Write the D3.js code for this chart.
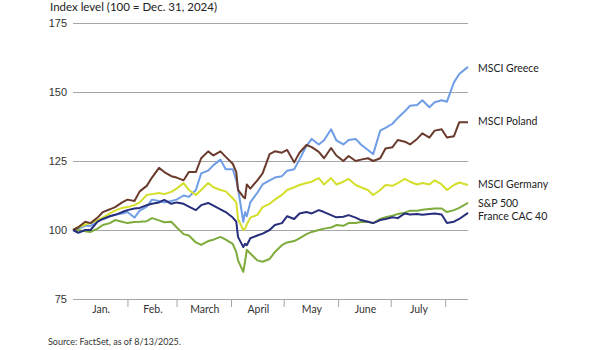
<!DOCTYPE html>
<html>
<head>
<meta charset="utf-8">
<script src="https://cdn.jsdelivr.net/npm/d3@7"></script>
<style>
  body { margin: 0; background: #fff; }
  svg { display: block; font-family: Lato, "Open Sans", sans-serif; }
</style>
</head>
<body>
<svg width="600" height="350"></svg>
<script>
// trading dates sampled through the period
const dates = [
  "2024-12-31","2025-01-03","2025-01-07","2025-01-10","2025-01-14","2025-01-17","2025-01-21","2025-01-24",
  "2025-01-28","2025-01-31","2025-02-04","2025-02-07","2025-02-11","2025-02-14","2025-02-18","2025-02-21",
  "2025-02-25","2025-02-28","2025-03-04","2025-03-07","2025-03-11","2025-03-14","2025-03-18","2025-03-21",
  "2025-03-25","2025-03-28","2025-04-01","2025-04-03","2025-04-04","2025-04-07","2025-04-08","2025-04-09",
  "2025-04-11","2025-04-15","2025-04-18","2025-04-22","2025-04-25","2025-04-29","2025-05-02","2025-05-06",
  "2025-05-09","2025-05-13","2025-05-16","2025-05-20","2025-05-23","2025-05-27","2025-05-30","2025-06-03",
  "2025-06-06","2025-06-10","2025-06-13","2025-06-17","2025-06-20","2025-06-24","2025-06-27","2025-07-01",
  "2025-07-04","2025-07-08","2025-07-11","2025-07-15","2025-07-18","2025-07-22","2025-07-25","2025-07-29",
  "2025-08-01","2025-08-05","2025-08-08","2025-08-13"
];

const greece = [
  100,100.5,101.5,101.5,103,104,105,105.5,106,106.5,104.5,107,108.5,111,110.5,110,
  110.5,111,112.5,112,114.5,120.5,121.5,123.5,125.5,122,122,118,115,103,106.5,105,
  110,113.5,116.5,118,119,119.5,121.5,122,125.5,130.5,133,131,132.5,136.5,132.5,131,
  132.6,133,131,129,127.5,136,137,138.5,140.6,143,145,145.3,147,144.5,146.3,147,
  146.5,153.5,156.5,159.1
];
const poland = [
  100,101,103,102.5,104.5,106.5,107.5,108.3,110,111,110.5,114,116,119,122.5,121,
  119.5,119,118,121,121,126,128.5,127,128.5,126.5,124,121,114.5,112,111.5,116.5,
  115,118,120.5,127.5,128.5,128,129,124.5,128,130.8,130,128.3,126,129.7,127,125,
  126.8,125,125.5,126,125,126,129.5,130,132.6,132,131,133,135,133.5,136,136.5,
  133.5,134,139,139
];
const germany = [
  100,101,102,102.5,103.6,104.5,106,107,108,108.3,109,110,112.7,113,113.4,113,
  113.8,115,117,114.5,112.7,114.5,117,115.5,114.5,114,111.5,110,104,100,100.5,102,
  104.5,105.5,108.3,109.5,111,112.7,114.5,115.5,116.3,117,117.5,118.8,116.5,118.8,116.5,117.5,
  118.5,116.3,115.5,114.5,112.7,114.5,116.3,116,117,118.5,117.5,116.5,117,116.5,118,116.5,
  114.5,116.3,117.2,116.3
];
const sp500 = [
  100,100,99.5,99.3,100.5,101.8,102.5,103.6,103,102.5,102.9,103,103.2,104.3,103.5,102.8,
  103,101,98.5,98,95.5,94.6,96,96.5,97.5,96.5,95,92,89,84.8,88.5,92.8,
  91.5,89,88.5,89.5,92,94.5,95.5,96,97,98.5,99.3,100,100.5,100.9,101.8,101.5,
  102.5,102.5,102.9,103,102.5,104,104.6,105.2,105.8,106.3,107,107,107.3,107.6,107.8,107.8,
  106.5,107.2,108,109.8
];
const cac40 = [
  100,99,100,100,103,104,105,105.5,106.5,107.2,107.8,108,109,109.5,110,110.9,
  109.5,110,109.5,108.5,107.2,109,109.8,108.8,107.5,106.5,104.5,103,97.5,93.8,95,94.5,
  97,98,98.7,100,101.8,102.5,105,104,106,106.5,106,107.2,106.5,105.4,104.6,104.8,
  105.4,104.5,103.6,103,102.5,103.6,104,104.6,104.3,106,105.6,105.8,105.5,105.8,106,105.6,
  102.5,103,104,106.2
];

const seriesNames = ["MSCI Greece", "MSCI Germany", "S&P 500", "MSCI Poland", "France CAC 40"];
const seriesValues = [greece, germany, sp500, poland, cac40];
const seriesColors = ["#6f9de6", "#d3df2a", "#7dab3c", "#6a3b2c", "#272e7b"];
const labelNudge = [1, -1, 0, -1, 3];

const yTicks = [75, 100, 125, 150, 175];
const monthLabels = ["Jan.", "Feb.", "March", "April", "May", "June", "July"];

const parse = d3.timeParse("%Y-%m-%d");
const xDates = dates.map(parse);

const svg = d3.select("svg");
const x = d3.scaleTime()
  .domain([parse("2024-12-31"), parse("2025-08-13")])
  .range([73, 468]);
const y = d3.scaleLinear().domain([75, 175]).range([299, 23]);

// gridlines + y labels
const yAxis = svg.append("g")
  .attr("transform", "translate(73,0)")
  .call(d3.axisLeft(y).tickValues(yTicks).tickSize(-395).tickPadding(6));
yAxis.select(".domain").remove();
yAxis.selectAll("line").attr("stroke", "#a6a6a6").attr("stroke-width", 1);
yAxis.selectAll("text").attr("fill", "#333").style("font-size", "11px");

// month separators (last day of each month)
const monthEnds = d3.range(1, 8).map(m => d3.timeDay.offset(new Date(2025, m, 1), -1));
const xAxis = svg.append("g")
  .attr("transform", "translate(0,299)")
  .call(d3.axisBottom(x).tickValues(monthEnds).tickSize(8).tickSizeOuter(0).tickFormat(""));
xAxis.select(".domain").remove();
xAxis.selectAll("line").attr("stroke", "#a6a6a6");

const bounds = [x.domain()[0], ...monthEnds];
svg.append("g").selectAll("text")
  .data(monthLabels)
  .join("text")
  .attr("x", (d, i) => (x(bounds[i]) + x(bounds[i + 1])) / 2 + 1)
  .attr("y", 313)
  .attr("text-anchor", "middle")
  .attr("fill", "#333")
  .style("font-size", "10.5px")
  .text(d => d);

// lines
const line = d3.line()
  .x((d, i) => x(xDates[i]))
  .y(d => y(d));

seriesValues.forEach((vals, idx) => {
  svg.append("path")
    .attr("d", line(vals))
    .attr("fill", "none")
    .attr("stroke", seriesColors[idx])
    .attr("stroke-width", 2)
    .attr("stroke-linejoin", "round");

  svg.append("text")
    .attr("x", 478)
    .attr("y", y(vals[vals.length - 1]) + labelNudge[idx])
    .attr("dy", "0.35em")
    .attr("fill", "#222")
    .style("font-size", "10.5px")
    .text(seriesNames[idx]);
});

svg.append("text")
  .attr("x", 50).attr("y", 11)
  .attr("fill", "#222")
  .style("font-size", "11.5px")
  .text("Index level (100 = Dec. 31, 2024)");

svg.append("text")
  .attr("x", 48).attr("y", 345)
  .attr("fill", "#333")
  .style("font-size", "9px")
  .text("Source: FactSet, as of 8/13/2025.");
</script>
</body>
</html>
